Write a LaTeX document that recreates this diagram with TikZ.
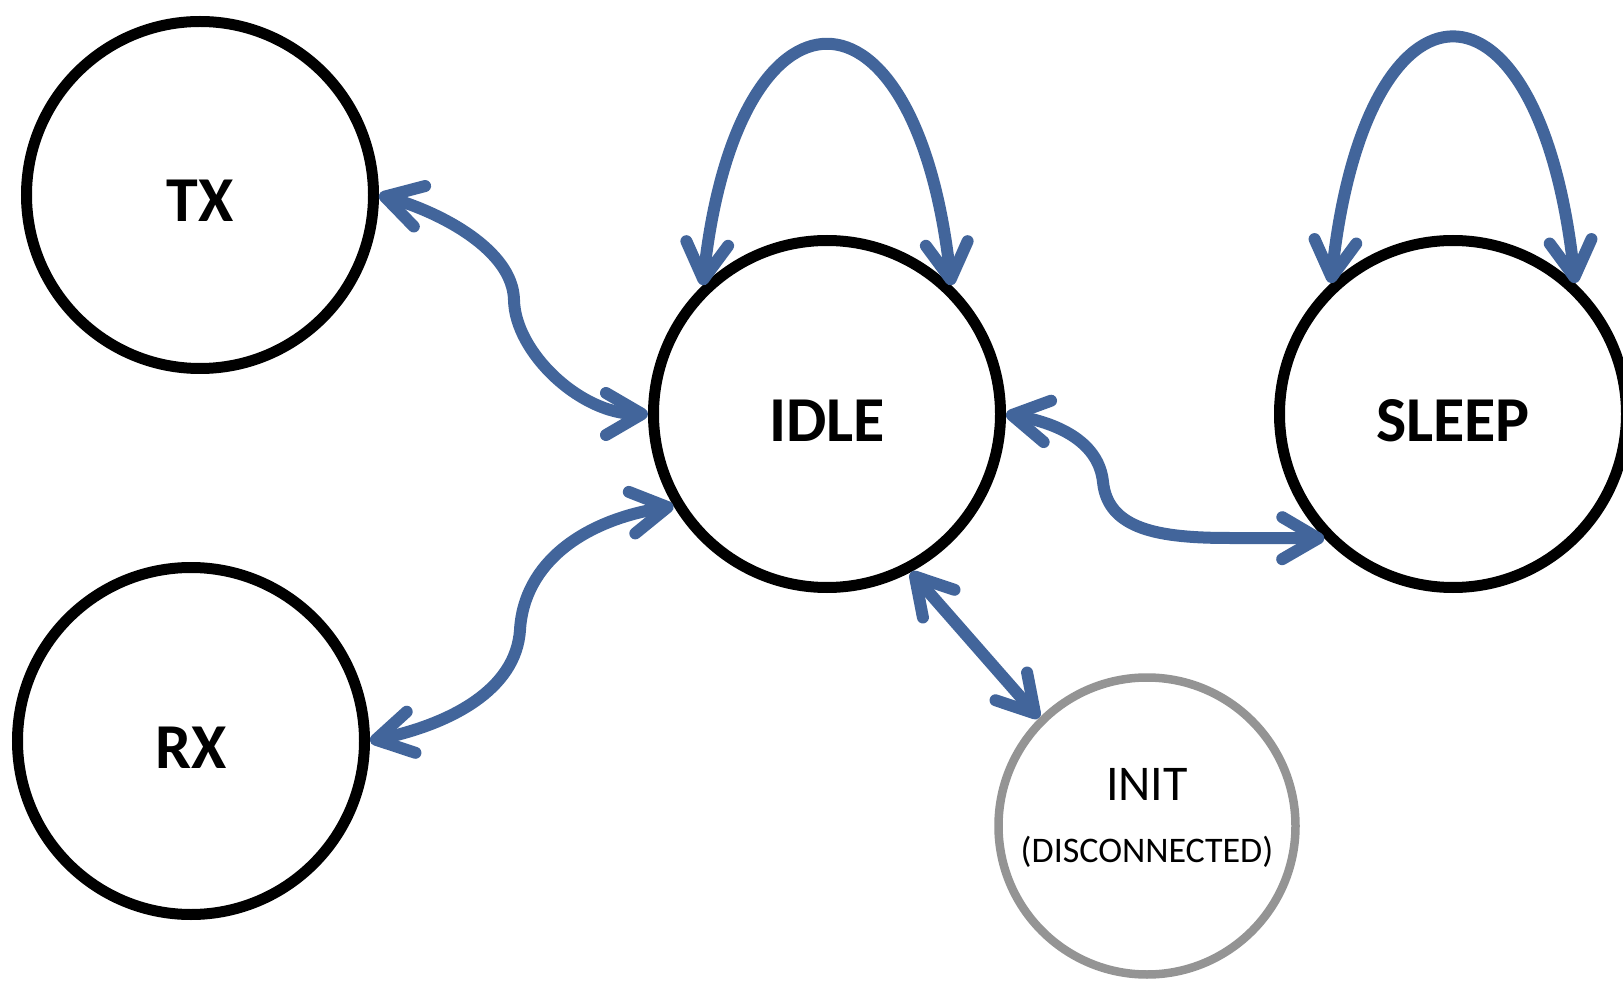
\documentclass[tikz,border=0pt]{standalone}
\usepackage{fontspec}
\setmainfont{Carlito}
\usetikzlibrary{arrows.meta}
\definecolor{linkblue}{RGB}{66,101,155}
\definecolor{initgray}{RGB}{148,148,148}
% centred text placed with its baseline shifted by #1, taking no room
\newcommand\lowered[2]{\makebox[0pt]{\raisebox{#1}[0pt][0pt]{#2}}}

\begin{document}
\begin{tikzpicture}[x=1pt,y=-1pt,
  state/.style={circle, draw=black, line width=11pt, minimum size=347pt,
    inner sep=0pt, font=\fontsize{64}{64}\selectfont\bfseries},
  initstate/.style={circle, draw=initgray, line width=8.5pt, minimum size=297pt,
    inner sep=0pt},
  link/.style={line width=12pt, draw=linkblue, line cap=round, line join=round,
    >={Straight Barb[length=36pt,width=42pt,round]}, <->}]

\useasboundingbox (0,0) rectangle (1623,981);

% states
\node[state] (TX) at (200,195) {\lowered{-27pt}{TX}};
\node[state] (RX) at (191,741) {\lowered{-27pt}{RX}};
\node[state] (IDLE) at (827,414) {\lowered{-28pt}{IDLE}};
\node[state] (SLEEP) at (1453,414) {\lowered{-28pt}{SLEEP}};
\node[initstate] (INIT) at (1147,826)
  {\lowered{26pt}{\fontsize{50}{50}\selectfont INIT}%
   \lowered{-36pt}{\fontsize{36}{36}\selectfont (DISCONNECTED)}};

% transitions
\draw[link] (TX.east) .. controls (440,212) and (513,250) .. (514,300)
  .. controls (515,352) and (580,414) .. (IDLE.west);
\draw[link] (RX.east) .. controls (450,724) and (516,690) .. (520,630)
  .. controls (524,562) and (585,520) .. (IDLE.211);
\draw[link] (IDLE.east) .. controls (1062,424) and (1099,444) .. (1103,482)
  .. controls (1108,530) and (1160,538) .. (1230,538) -- (SLEEP.224);
\draw[link] (IDLE.-62) -- (INIT.135);

% self loops
\draw[link] (IDLE.134) .. controls +(35,-318) and +(-35,-318) .. (IDLE.46);
\draw[link] (SLEEP.133) .. controls +(35,-325) and +(-35,-325) .. (SLEEP.47);
\end{tikzpicture}
\end{document}
